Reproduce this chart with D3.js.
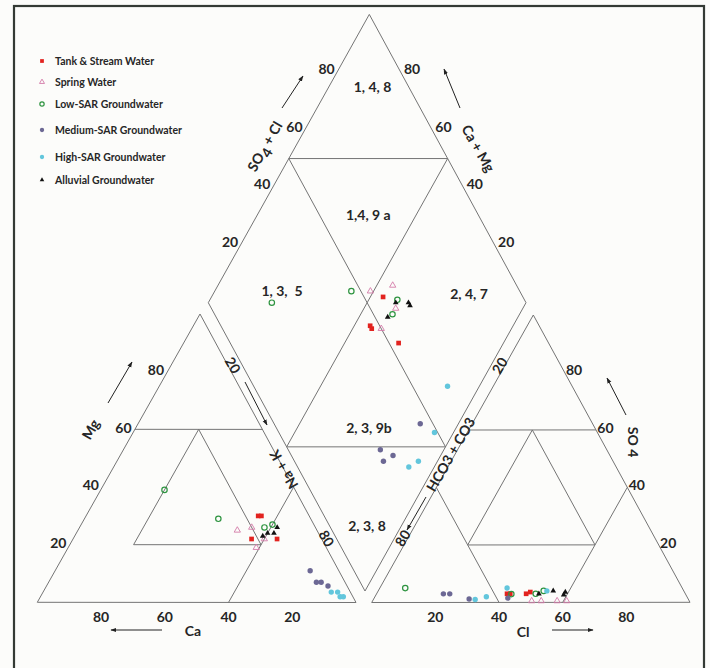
<!DOCTYPE html>
<html>
<head>
<meta charset="utf-8">
<title>Piper diagram</title>
<style>
  body { margin: 0; background: #fcfcfa; }
  text { font-family: Lato, "Open Sans", sans-serif; font-weight: bold; fill: #262626; }
</style>
</head>
<body>
<script src="https://cdn.jsdelivr.net/npm/d3@7/dist/d3.min.js"></script>
<script>
// sample groups (legend order)
var groups = ["Tank & Stream Water", "Spring Water", "Low-SAR Groundwater",
              "Medium-SAR Groundwater", "High-SAR Groundwater", "Alluvial Groundwater"];
var ticks = [20, 40, 60, 80];
var stripTicks = [20, 80];
var zones = ["1, 4, 8", "1,4, 9 a", "1, 3,  5", "2, 4, 7", "2, 3, 9b", "2, 3, 8"];

// cation triangle: group, Ca %, Mg %  (Na+K = rest)
var cationPts = [
  [0, 16, 30], [0, 15, 30], [0, 22, 22], [0, 14, 22],
  [1, 25, 25], [1, 20, 26], [1, 18, 22], [1, 22, 19],
  [2, 41, 39], [2, 29, 29], [2, 16, 26], [2, 13, 27],
  [3, 9, 11], [3, 9, 7], [3, 7.5, 7], [3, 6, 5.7],
  [4, 6, 3.6], [4, 4, 3.6], [4, 4, 2], [4, 3, 2],
  [5, 18, 23], [5, 16, 24], [5, 14, 24], [5, 12, 26]
];
// anion triangle: group, Cl %, SO4 %  (HCO3+CO3 = rest)
var anionPts = [
  [0, 41, 3], [0, 42, 3], [0, 47, 3], [0, 48, 3.6],
  [1, 50, 0.5], [1, 53, 0.5], [1, 58, 0.5], [1, 61, 0.5],
  [2, 8, 5], [2, 42.4, 2.9], [2, 50, 3], [2, 52, 4],
  [3, 21, 3], [3, 23, 3], [3, 30, 1.2], [3, 42, 1.5],
  [4, 32, 1], [4, 35, 2], [4, 40, 5], [4, 53, 4],
  [5, 51, 3], [5, 55, 4], [5, 59, 3.6], [5, 59, 2.6]
];
// diamond: group, SO4+Cl %, Ca+Mg %
var diamondPts = [
  [0, 56, 46], [0, 47, 45], [0, 47, 44], [0, 53, 33],
  [1, 53, 51], [1, 61, 45], [1, 58, 40], [1, 50, 41],
  [2, 20, 80], [2, 47, 57], [2, 60, 41], [2, 56, 40],
  [3, 46, 12], [3, 29, 20], [3, 32, 15], [3, 28, 17],
  [4, 61, 10], [4, 49, 6], [4, 35, 8], [4, 39, 6],
  [5, 59, 41], [5, 63, 37], [5, 63, 36], [5, 54, 41]
];

// styles
var colors = ["#e2231f", "#d47aa8", "#2e9440", "#6c6894", "#62c6dc", "#111111"];
var shapes = ["square", "triangle", "circle", "circle", "circle", "triangle"];
var filled = [true, false, false, true, true, true];

var svg = d3.select("body").append("svg")
  .attr("width", 710).attr("height", 668);

svg.append("defs").append("marker")
  .attr("id", "ah").attr("viewBox", "0 0 10 10")
  .attr("refX", 9).attr("refY", 5)
  .attr("markerWidth", 6).attr("markerHeight", 6)
  .attr("orient", "auto")
  .append("path").attr("d", "M0,1.5L10,5L0,8.5Z").attr("fill", "#222");

// frame
svg.append("rect").attr("x", 14).attr("y", 6).attr("width", 690).attr("height", 700)
  .attr("fill", "none").attr("stroke", "#343a34").attr("stroke-width", 2.2);

// triangle / diamond corners: o = origin, a = along u, b = along w
var cat = { o: [37.3, 602.3], a: [356, 602.5], b: [200, 314] };
var ani = { o: [371.7, 602.5], a: [690, 602.3], b: [533.3, 315] };
var dia = { o: [365, 591], a: [526, 302.7], b: [208.3, 302.7] };

var pct = d3.scaleLinear().domain([0, 100]).range([0, 1]);

function place(t, u, w) {
  var fu = pct(u), fw = pct(w);
  return [t.o[0] + fu * (t.a[0] - t.o[0]) + fw * (t.b[0] - t.o[0]),
          t.o[1] + fu * (t.a[1] - t.o[1]) + fw * (t.b[1] - t.o[1])];
}

var line = d3.line();
var grid = svg.append("g").attr("fill", "none").attr("stroke", "#747474").attr("stroke-width", 1);

function seg(t, pts, closed) {
  var p = pts.map(function (d) { return place(t, d[0], d[1]); });
  if (closed) p.push(p[0]);
  grid.append("path").attr("d", line(p));
}

// cation triangle
seg(cat, [[0, 0], [100, 0], [0, 100]], true);
seg(cat, [[0, 60], [40, 60]]);
seg(cat, [[20, 20], [60, 20], [20, 60]], true);
seg(cat, [[60, 40], [60, 0]]);
// anion triangle
seg(ani, [[0, 0], [100, 0], [0, 100]], true);
seg(ani, [[0, 60], [40, 60]]);
seg(ani, [[20, 20], [60, 20], [20, 60]], true);
seg(ani, [[60, 40], [60, 0]]);
seg(ani, [[0, 40], [40, 0]]);
// diamond
seg(dia, [[0, 0], [100, 0], [100, 100], [0, 100]], true);
seg(dia, [[50, 100], [100, 50]]);
seg(dia, [[0, 50], [50, 0]]);
seg(dia, [[50, 100], [50, 0]]);
seg(dia, [[100, 50], [0, 50]]);

// tick labels
var lab = svg.append("g").attr("font-size", 14).attr("text-anchor", "middle")
  .attr("dominant-baseline", "central");

function tickText(t, u, w, dx, dy, txt, rot) {
  var p = place(t, u, w);
  var x = p[0] + dx, y = p[1] + dy;
  var el = lab.append("text").attr("x", x).attr("y", y).text(txt);
  if (rot) el.attr("transform", "rotate(" + rot + "," + x + "," + y + ")");
}

ticks.forEach(function (v) {
  tickText(cat, 0, v, -11.5, -2, v);            // Mg
  tickText(cat, 100 - v, 0, 0, 14, v);          // Ca
  tickText(ani, 100 - v, v, 9.5, -2.5, v);      // SO4
  tickText(ani, v, 0, 0, 14, v);                // Cl
  tickText(dia, v, 100, -10.5, -3.5, v);        // SO4 + Cl
  tickText(dia, 100, v, 11.5, -3.5, v);         // Ca + Mg
});
stripTicks.forEach(function (v) {
  tickText(cat, v, 100 - v, 2, -6.6, v, 60);    // Na + K
  tickText(ani, 0, 100 - v, -1.6, -7, v, -60);  // HCO3 + CO3
});

// zone labels in the diamond
var zonePos = [[372.5, 86], [368.3, 214], [282, 290], [469, 293], [369, 427], [367, 525]];
zones.forEach(function (z, i) {
  lab.append("text").attr("x", zonePos[i][0]).attr("y", zonePos[i][1])
    .attr("xml:space", "preserve").text(z);
});

// axis titles
function title(x, y, rot, parts) {
  var t = lab.append("text").attr("x", x).attr("y", y);
  if (rot) t.attr("transform", "rotate(" + rot + "," + x + "," + y + ")");
  parts.forEach(function (p) {
    var s = t.append("tspan").text(p[0]);
    if (p[1]) s.attr("dy", p[1]);
  });
}
title(264, 146, -60, [["SO"], ["4", 5], [" + Cl", -5]]);
title(479, 148, 60, [["Ca + Mg"]]);
title(90, 429, -60, [["Mg"]]);
title(193, 630, 0, [["Ca"]]);
title(283, 470, -120, [["Na + K"]]);
title(450, 454, -60, [["HCO3 + CO3"]]);
title(634, 442, 90, [["SO 4"]]);
title(523, 631, 0, [["Cl"]]);

// arrows
var arrows = svg.append("g").attr("stroke", "#222").attr("stroke-width", 1);
[[282, 108, 303, 76], [460, 108, 444, 69], [108, 403, 132, 362], [162, 630, 111, 630],
 [245, 382, 267, 425], [426, 497, 407, 530], [626, 415, 607, 378], [552, 630, 593, 630]]
  .forEach(function (a) {
    arrows.append("line").attr("x1", a[0]).attr("y1", a[1]).attr("x2", a[2]).attr("y2", a[3])
      .attr("marker-end", "url(#ah)");
  });

// point markers
function mark(g, gi, x, y, k) {
  var c = colors[gi];
  if (shapes[gi] === "circle") {
    g.append("circle").attr("cx", x).attr("cy", y).attr("r", 2.7 * k)
      .attr("fill", filled[gi] ? c : "none")
      .attr("stroke", filled[gi] ? "none" : c).attr("stroke-width", 1.2);
  } else {
    var sym = shapes[gi] === "square" ? d3.symbolSquare : d3.symbolTriangle;
    var size = shapes[gi] === "square" ? 22 : (filled[gi] ? 14 : 17);
    g.append("path").attr("d", d3.symbol().type(sym).size(size * k * k)())
      .attr("transform", "translate(" + x + "," + y + ")")
      .attr("fill", filled[gi] ? c : "none")
      .attr("stroke", filled[gi] ? "none" : c).attr("stroke-width", 0.9);
  }
}

var pts = svg.append("g");
cationPts.forEach(function (d) {
  var p = place(cat, 100 - d[1] - d[2], d[2]);
  mark(pts, d[0], p[0], p[1], 1);
});
anionPts.forEach(function (d) {
  var p = place(ani, d[1], d[2]);
  mark(pts, d[0], p[0], p[1], 1);
});
diamondPts.forEach(function (d) {
  var p = place(dia, d[1], d[2]);
  mark(pts, d[0], p[0], p[1], 1);
});

// legend
var legendY = [61, 82, 104, 130, 157, 180];
var leg = svg.append("g");
groups.forEach(function (name, i) {
  mark(leg, i, 42, legendY[i], 0.8);
  leg.append("text").attr("x", 55).attr("y", legendY[i]).attr("dy", "0.35em")
    .attr("font-size", 10.5).attr("fill", "#333").text(name);
});
</script>
</body>
</html>
